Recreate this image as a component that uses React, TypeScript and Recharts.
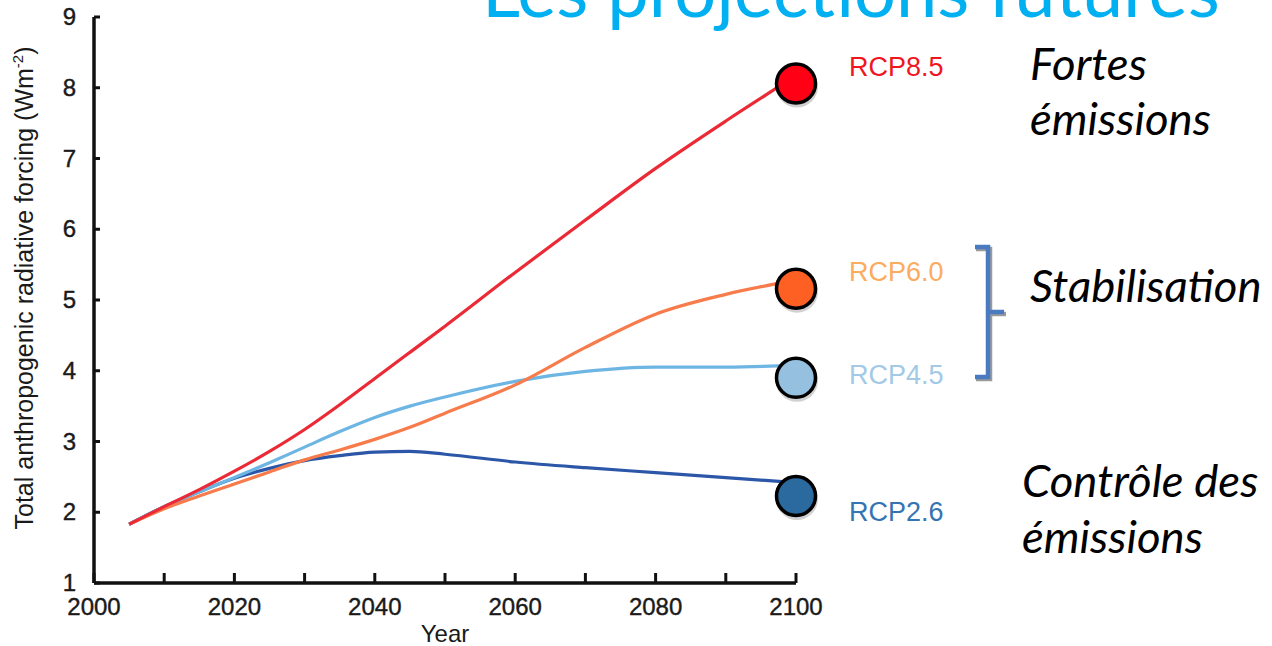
import { ComposedChart, Line, Scatter, XAxis, YAxis, Label } from "recharts"

// radiative forcing (W/m2)
const years = [2005, 2010, 2015, 2020, 2025, 2030, 2035, 2040, 2045, 2050, 2060, 2070, 2080, 2090, 2100]
const rcp85 = [1.83, 2.08, 2.32, 2.58, 2.86, 3.17, 3.52, 3.89, 4.26, 4.63, 5.39, 6.13, 6.86, 7.53, 8.17]
const rcp60 = [1.83, 2.05, 2.23, 2.4, 2.57, 2.74, 2.88, 3.03, 3.2, 3.4, 3.8, 4.33, 4.8, 5.08, 5.28]
const rcp45 = [1.83, 2.08, 2.29, 2.49, 2.7, 2.92, 3.14, 3.34, 3.5, 3.63, 3.85, 3.99, 4.05, 4.05, 4.08]
const rcp26 = [1.83, 2.08, 2.29, 2.48, 2.62, 2.73, 2.8, 2.85, 2.86, 2.82, 2.71, 2.63, 2.56, 2.49, 2.42]

const scenarios = ["RCP8.5", "RCP6.0", "RCP4.5", "RCP2.6"]
const markerYear = 2100
const markerValues = [8.06, 5.16, 3.9, 2.23]

const xTicks = [2000, 2010, 2020, 2030, 2040, 2050, 2060, 2070, 2080, 2090, 2100]
const yTicks = [1, 2, 3, 4, 5, 6, 7, 8, 9]

const rows = years.map((year, i) => ({
  year,
  rcp85: rcp85[i],
  rcp60: rcp60[i],
  rcp45: rcp45[i],
  rcp26: rcp26[i],
}))

const lineColors = ["#ec2a36", "#f77b4b", "#6db5e3", "#2c57a8"]
const dotColors = ["#ff0014", "#fe6024", "#95c0e0", "#2a6a9f"]
const labelColors = ["#f0161f", "#fcac5e", "#a2c9e6", "#3574b2"]
const labelDy = [-8, -8, 6, 25]

const AXIS_FONT = "'Liberation Sans', Arial, sans-serif"
const NOTE_FONT = "Lato, 'Open Sans', sans-serif"

const XTick = ({ x, y, payload }: any) => (
  <g>
    <line x1={x} x2={x} y1={y} y2={y - 10} stroke="#111" strokeWidth={3} />
    {payload.value % 20 === 0 && (
      <text
        x={x}
        y={y + 32}
        textAnchor="middle"
        fontSize={24}
        fontFamily={AXIS_FONT}
        fill="#1a1a1a"
        stroke="#1a1a1a"
        strokeWidth={0.4}
      >
        {payload.value}
      </text>
    )}
  </g>
)

const YTick = ({ x, y, payload }: any) => (
  <g>
    <line x1={x} x2={x + 6} y1={y} y2={y} stroke="#111" strokeWidth={3} />
    <text
      x={x - 18}
      y={y + 8}
      textAnchor="end"
      fontSize={24}
      fontFamily={AXIS_FONT}
      fill="#1a1a1a"
      stroke="#1a1a1a"
      strokeWidth={0.4}
    >
      {payload.value}
    </text>
  </g>
)

const YTitle = ({ viewBox }: any) => {
  const cx = viewBox.x + 33
  const cy = viewBox.y + viewBox.height / 2 - 12
  return (
    <text
      x={cx}
      y={cy}
      transform={`rotate(-90 ${cx} ${cy})`}
      textAnchor="middle"
      fontSize={25}
      fontFamily={AXIS_FONT}
      fill="#1a1a1a"
    >
      Total anthropogenic radiative forcing (Wm
      <tspan fontSize={15} dy={-10}>-2</tspan>
      <tspan dy={10}>)</tspan>
    </text>
  )
}

const XTitle = ({ viewBox }: any) => (
  <text
    x={viewBox.x + viewBox.width / 2}
    y={viewBox.y + 59}
    textAnchor="middle"
    fontSize={24}
    fontFamily={AXIS_FONT}
    fill="#1a1a1a"
  >
    Year
  </text>
)

const EndMarker = ({ cx, cy, index }: any) => (
  <g>
    <circle cx={cx + 1} cy={cy + 3} r={21} fill="#000" opacity={0.18} />
    <circle cx={cx} cy={cy} r={19.5} fill={dotColors[index]} stroke="#000" strokeWidth={3.5} />
    <text
      x={cx + 53}
      y={cy + labelDy[index]}
      fontSize={27}
      fontFamily={AXIS_FONT}
      fill={labelColors[index]}
    >
      {scenarios[index]}
    </text>
  </g>
)

const seriesKeys = ["rcp85", "rcp60", "rcp45", "rcp26"]

export default function App() {
  return (
    <div style={{ position: "absolute", left: 0, top: 0, width: 1272, height: 646, background: "#fff" }}>
      <ComposedChart
        width={1272}
        height={646}
        data={rows}
        margin={{ top: 17, right: 476, bottom: 0, left: 0 }}
      >
        <XAxis
          dataKey="year"
          type="number"
          domain={[2000, 2100]}
          ticks={xTicks}
          height={63}
          tickSize={0}
          tickMargin={0}
          tickLine={false}
          axisLine={{ stroke: "#111", strokeWidth: 3.5 }}
          tick={<XTick />}
          interval={0}
        >
          <Label content={<XTitle />} />
        </XAxis>
        <YAxis
          type="number"
          domain={[1, 9]}
          ticks={yTicks}
          width={94}
          tickSize={0}
          tickMargin={0}
          tickLine={false}
          axisLine={{ stroke: "#111", strokeWidth: 3.5 }}
          tick={<YTick />}
          interval={0}
        >
          <Label content={<YTitle />} />
        </YAxis>
        {[3, 2, 1, 0].map((i) => (
          <Line
            key={seriesKeys[i]}
            dataKey={seriesKeys[i]}
            type="monotone"
            stroke={lineColors[i]}
            strokeWidth={3.2}
            dot={false}
            activeDot={false}
            isAnimationActive={false}
          />
        ))}
        {scenarios.map((name, i) => (
          <Scatter
            key={name}
            data={[{ year: markerYear, value: markerValues[i] }]}
            dataKey="value"
            isAnimationActive={false}
            shape={(p: any) => <EndMarker {...p} index={i} />}
          />
        ))}
      </ComposedChart>

      <svg
        width={1272}
        height={646}
        style={{ position: "absolute", left: 0, top: 0, pointerEvents: "none" }}
      >
        <text x={482} y={17} fontSize={74} fontFamily={NOTE_FONT} fill="#00b0f0">
          Les projections futures
        </text>
        <g fontFamily={NOTE_FONT} fontStyle="italic" fontSize={45.5} fill="#000">
          <text x={1030} y={80}>Fortes</text>
          <text x={1030} y={135}>émissions</text>
          <text x={1030} y={302}>Stabilisation</text>
          <text x={1022} y={497}>Contrôle des</text>
          <text x={1022} y={553}>émissions</text>
        </g>
        <g fill="none" strokeWidth={4.5}>
          <path d="M976 249 H990 V379 H976 M990 314 H1006" stroke="#9a9a9a" />
          <path d="M975 247 H988 V377 H975 M988 312 H1004" stroke="#4a7bc0" />
        </g>
      </svg>
    </div>
  )
}
